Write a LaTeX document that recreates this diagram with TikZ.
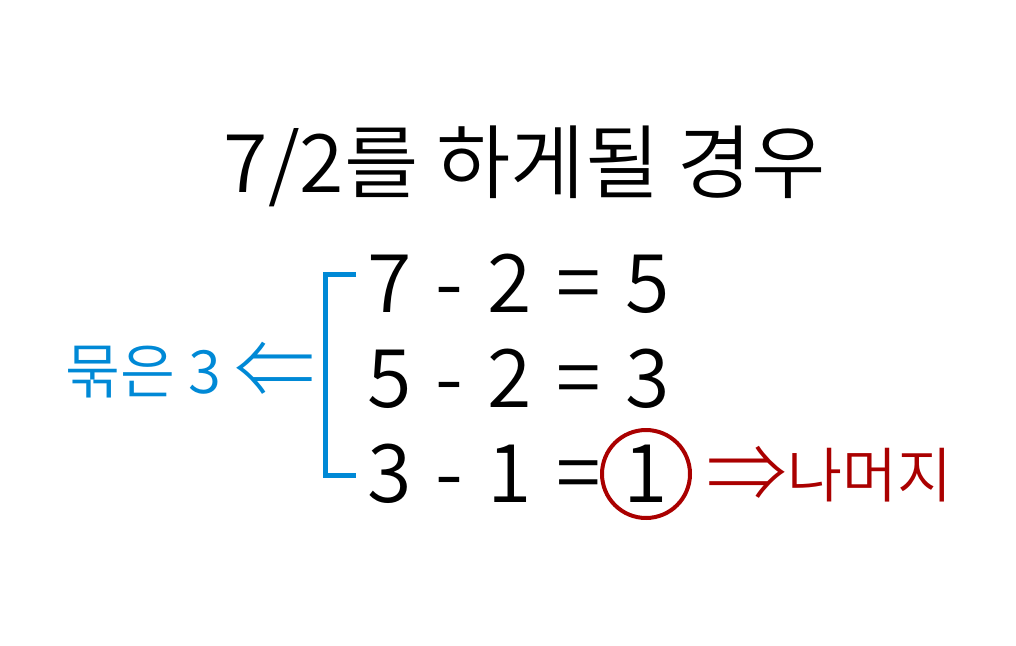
\documentclass[tikz,border=0pt]{standalone}
\usepackage{fontspec}
\setmainfont{Noto Sans CJK KR DemiLight}
\newfontfamily\thinfont{Noto Sans CJK KR Light}
\usetikzlibrary{positioning}
\definecolor{bracketblue}{RGB}{0,137,214}
\definecolor{remred}{RGB}{170,0,0}
\newcommand\eqfont{\fontsize{46}{50}\selectfont\spaceskip 0.3em\relax}
\newcommand\bigarr[1]{\raisebox{-3pt}{\thinfont\fontsize{46}{50}\selectfont #1}}
\tikzset{
  ttl/.style  = {font=\fontsize{46}{50}\selectfont, anchor=base},
  eq/.style   = {font=\eqfont, anchor=base west, inner sep=0pt},
  lbl/.style  = {font=\fontsize{34}{38}\selectfont, anchor=base west, inner sep=0pt},
  ring/.style = {draw=remred, circle, line width=0.8mm, minimum size=17.6mm, inner sep=0pt}
}
\begin{document}
\begin{tikzpicture}[x=0.02cm, y=-0.02cm]
  \useasboundingbox (0,0) rectangle (1016,645);
  \node[ttl] (title) at (525,193) {7/2를 하게될 경우};
  \node[eq] (l1) at (367,312) {7 - 2 = 5};
  \node[eq] (l2) at (367,407) {5 - 2 = 3};
  \node[eq] (l3) at (367,502) {3 - 1 =};
  \node[ring, font=\fontsize{46}{50}\selectfont] (one) at (646,474) {1};
  % bracket round the three lines
  \coordinate (bt) at (356,274);
  \coordinate (bb) at (356,475);
  \draw[draw=bracketblue, line width=1mm] (bt) -| (325,475) -- (bb);
  \node[lbl, text=bracketblue] (grp) at (65,393) {묶은 3 \bigarr{⇐}};
  \node[lbl, text=remred] (rem) at (706,497) {\bigarr{⇒}나머지};
\end{tikzpicture}
\end{document}
